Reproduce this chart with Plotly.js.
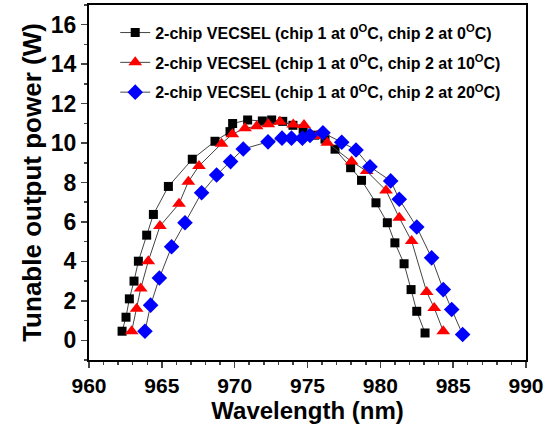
<!DOCTYPE html>
<html>
<head>
<meta charset="utf-8">
<script src="https://cdn.plot.ly/plotly-3.0.1.min.js"></script>
<style>html,body{margin:0;padding:0;background:#fff;}#chart{width:557px;height:424px;}</style>
</head>
<body>
<div id="chart"></div>
<script>
const seriesNames = [
  "2-chip VECSEL (chip 1 at 0<sup>O</sup>C, chip 2 at 0<sup>O</sup>C)",
  "2-chip VECSEL (chip 1 at 0<sup>O</sup>C, chip 2 at 10<sup>O</sup>C)",
  "2-chip VECSEL (chip 1 at 0<sup>O</sup>C, chip 2 at 20<sup>O</sup>C)"
];
const wl0 = [962.27,962.54,962.77,963.09,963.39,963.96,964.42,965.45,967.09,968.65,969.68,969.86,970.89,971.9,972.54,973.3,974.0,974.7,975.5,976.2,976.89,977.96,978.71,979.7,980.48,981.0,981.63,982.11,982.5,983.07];
const p0  = [0.46,1.17,2.10,3.0,4.01,5.33,6.38,7.80,9.18,10.09,10.58,10.99,11.17,11.12,11.17,11.1,10.9,10.7,10.4,10.2,9.69,8.75,8.11,6.97,5.96,4.94,3.88,2.57,1.47,0.37];
const wl10 = [962.93,963.27,963.55,964.07,964.87,966.18,966.82,967.55,969.1,969.84,970.71,971.51,972.31,973.11,974.02,974.76,975.63,976.36,978.03,979.06,980.39,981.30,982.15,983.18,983.7,984.32];
const p10  = [0.46,1.6,2.62,4.01,5.79,6.92,8.04,8.84,9.97,10.45,10.75,10.85,10.95,11.08,10.94,10.91,10.36,10.02,9.06,8.58,7.6,6.21,5.03,2.45,1.64,0.46];
const wl20 = [963.84,964.23,964.83,965.67,966.59,967.73,968.76,969.72,970.59,972.29,973.25,973.9,974.65,975.17,976.06,977.35,978.33,979.29,980.71,981.30,982.5,983.52,984.32,984.9,985.65];
const p20  = [0.46,1.78,3.16,4.74,5.96,7.48,8.38,9.06,9.7,10.06,10.25,10.25,10.25,10.38,10.52,10.04,9.65,8.80,8.08,7.15,5.74,4.18,2.57,1.56,0.29];
const xTickVals = [960,965,970,975,980,985,990];
const yTickVals = [0,2,4,6,8,10,12,14,16];

const lineStyle = {color:'#444', width:1};
const traces = [
  {x:wl0, y:p0, name:seriesNames[0], mode:'lines+markers', line:lineStyle,
   marker:{symbol:'square', size:9, color:'#000000'}, legendgroup:'a'},
  {x:wl10, y:p10, name:seriesNames[1], mode:'lines+markers', line:lineStyle,
   marker:{symbol:'triangle-up', size:12, color:'#ff0000'}, legendgroup:'b'},
  {x:wl20, y:p20, name:seriesNames[2], mode:'lines+markers', line:lineStyle,
   marker:{symbol:'diamond', size:12, color:'#0000ff'}, legendgroup:'c'}
];
const fam = '"Liberation Sans", Arial, sans-serif';
const layout = {
  width:557, height:424,
  margin:{l:89, r:31, t:5, b:64},
  paper_bgcolor:'#fff', plot_bgcolor:'#fff',
  showlegend:true,
  legend:{x:0.06, y:0.97, xanchor:'left', yanchor:'top', bgcolor:'rgba(0,0,0,0)',
    font:{family:fam, size:16, color:'#000', weight:'bold'}, tracegroupgap:6, itemwidth:30},
  xaxis:{range:[960,990], tickvals:xTickVals, ticks:'outside', ticklen:6, tickwidth:1.5,
    showline:true, linewidth:2, linecolor:'#000', mirror:true, showgrid:false, zeroline:false,
    minor:{dtick:1, ticks:'outside', ticklen:3, tickwidth:1.5, showgrid:false},
    tickfont:{family:fam, size:21, color:'#000', weight:'bold'},
    title:{text:'Wavelength (nm)', font:{family:fam, size:24, color:'#000', weight:'bold'}, standoff:3}},
  yaxis:{range:[-1,17], tickvals:yTickVals, ticks:'outside', ticklen:6, tickwidth:1.5,
    showline:true, linewidth:2, linecolor:'#000', mirror:true, showgrid:false, zeroline:false,
    minor:{dtick:1, ticks:'outside', ticklen:3, tickwidth:1.5, showgrid:false},
    tickfont:{family:fam, size:23, color:'#000', weight:'bold'},
    title:{text:'Tunable output power (W)', font:{family:fam, size:26, color:'#000', weight:'bold'}, standoff:2}},
  xaxis2:{overlaying:'x', side:'top', anchor:'y', range:[960,990], tickvals:xTickVals, ticks:'inside',
    ticklen:6, tickwidth:1.5, showticklabels:false, showline:false, showgrid:false, zeroline:false,
    minor:{dtick:1, ticks:'inside', ticklen:3, tickwidth:1.5}},
  yaxis2:{overlaying:'y', side:'right', anchor:'x', range:[-1,17], tickvals:yTickVals, ticks:'inside',
    ticklen:6, tickwidth:1.5, showticklabels:false, showline:false, showgrid:false, zeroline:false,
    minor:{dtick:1, ticks:'inside', ticklen:3, tickwidth:1.5}}
};
Plotly.newPlot('chart', traces, layout, {displayModeBar:false, staticPlot:true});
</script>
</body>
</html>
